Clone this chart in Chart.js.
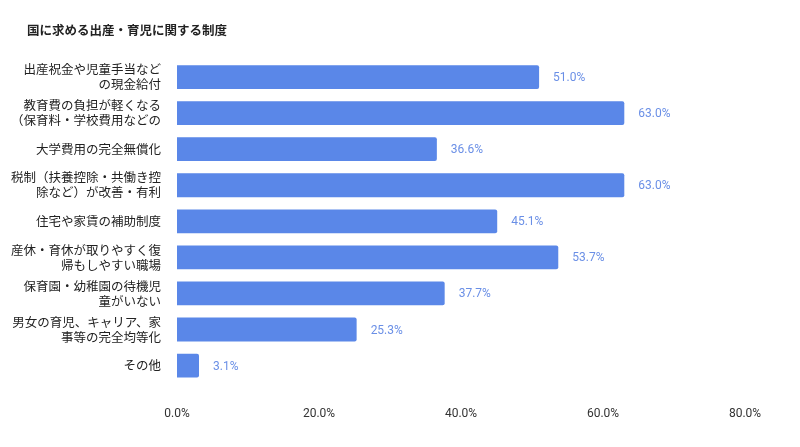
<!DOCTYPE html>
<html><head><meta charset="utf-8">
<script src="https://cdn.jsdelivr.net/npm/chart.js@4"></script>
<style>body{margin:0;background:#fff}#wrap{width:800px;height:447px;position:relative}</style>
</head><body><div id="wrap"><canvas id="c"></canvas></div>
<script>
const labels = [
  ['出産祝金や児童手当など','の現金給付'],
  ['教育費の負担が軽くなる','（保育料・学校費用などの'],
  '大学費用の完全無償化',
  ['税制（扶養控除・共働き控','除など）が改善・有利'],
  '住宅や家賃の補助制度',
  ['産休・育休が取りやすく復','帰もしやすい職場'],
  ['保育園・幼稚園の待機児','童がいない'],
  ['男女の育児、キャリア、家','事等の完全均等化'],
  'その他'
];
const values = [51.0, 63.0, 36.6, 63.0, 45.1, 53.7, 37.7, 25.3, 3.1];
const xTicks = [0, 20, 40, 60, 80];
const titleText = '国に求める出産・育児に関する制度';
const FONT = '"Noto Sans CJK JP", Roboto, sans-serif';

const valueLabels = {
  id: 'valueLabels',
  afterDatasetsDraw(chart){
    const ctx = chart.ctx;
    ctx.save();
    ctx.font = '12px Roboto, sans-serif';
    ctx.fillStyle = '#6a8fe6';
    ctx.textBaseline = 'middle';
    chart.getDatasetMeta(0).data.forEach((bar, i) => {
      ctx.fillText(values[i].toFixed(1) + '%', bar.x + 14, bar.y + 1);
    });
    ctx.font = 'bold 12.5px ' + FONT;
    ctx.fillStyle = '#222';
    ctx.fillText(titleText, 27, 30);
    ctx.restore();
  }
};

new Chart(document.getElementById('c'), {
  type: 'bar',
  data: { labels, datasets: [{ data: values, backgroundColor: '#5a87e8', borderRadius: 2,
    barPercentage: 0.66, categoryPercentage: 1 }] },
  options: {
    indexAxis: 'y', responsive: true, maintainAspectRatio: false, animation: false,
    layout: { padding: { top: 59, right: 55, bottom: 11, left: 0 } },
    plugins: { legend: { display: false }, tooltip: { enabled: false } },
    scales: {
      x: { min: 0, max: 80, grid: { display: false }, border: { display: false },
        afterBuildTicks(a){ a.ticks = xTicks.map(v => ({ value: v })); },
        ticks: { color: '#333', font: { family: 'Roboto', size: 12 }, padding: 15,
          callback: v => v.toFixed(1) + '%' } },
      y: { grid: { display: false }, border: { display: false },
        afterFit(a){ a.width = 177; },
        ticks: { color: '#222', font: { family: FONT, size: 12.5 }, padding: 8, autoSkip: false } }
    }
  },
  plugins: [valueLabels]
});
</script></body></html>
